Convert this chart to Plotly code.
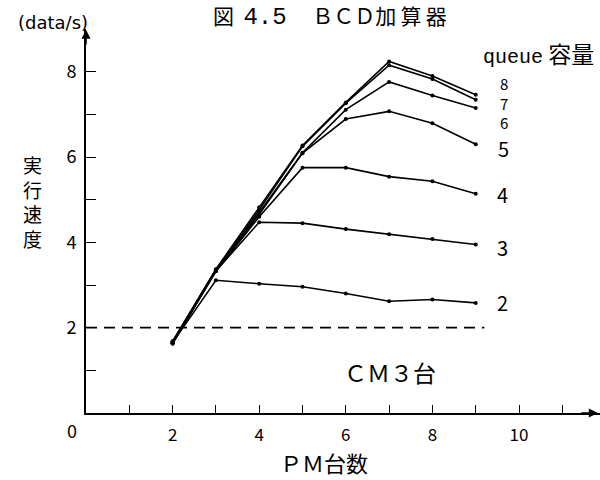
import plotly.graph_objects as go

# ---- data ----
pm_count = [2, 3, 4, 5, 6, 7, 8, 9]
queue_sizes = ["2", "3", "4", "5", "6", "7", "8"]
speed_q2 = [1.65, 3.11, 3.03, 2.96, 2.80, 2.62, 2.66, 2.58]
speed_q3 = [1.65, 3.33, 4.47, 4.45, 4.31, 4.19, 4.08, 3.95]
speed_q4 = [1.63, 3.32, 4.60, 5.75, 5.75, 5.54, 5.43, 5.14]
speed_q5 = [1.63, 3.33, 4.66, 6.09, 6.89, 7.07, 6.79, 6.30]
speed_q6 = [1.63, 3.34, 4.70, 6.10, 7.11, 7.76, 7.44, 7.15]
speed_q7 = [1.68, 3.36, 4.76, 6.25, 7.26, 8.15, 7.83, 7.34]
speed_q8 = [1.68, 3.37, 4.82, 6.27, 7.28, 8.24, 7.90, 7.46]
series = [speed_q2, speed_q3, speed_q4, speed_q5, speed_q6, speed_q7, speed_q8]
cm_limit = 2.0
x_tick_vals = [1, 2, 3, 4, 5, 6, 7, 8, 9, 10, 11]
x_tick_text = ["", "2", "", "4", "", "6", "", "8", "", "10", ""]
y_tick_vals = [1, 2, 3, 4, 5, 6, 7, 8]
y_tick_text = ["", "2", "", "4", "", "6", "", "8"]

FONT = "Noto Sans CJK JP"

fig = go.Figure()
for name, vals in zip(queue_sizes, series):
    fig.add_trace(go.Scatter(
        x=pm_count, y=vals, mode="lines+markers", name=name,
        line=dict(color="black", width=1.6),
        marker=dict(color="black", size=4),
        showlegend=False,
    ))

# dashed CM limit line
fig.add_shape(type="line", xref="x", yref="y", x0=0, x1=9.2, y0=cm_limit, y1=cm_limit,
              line=dict(color="black", width=1.6, dash="11px,7px"))

lab_font = lambda s: dict(size=s, family=FONT, color="black")
NB = "&nbsp;"
TH = "\u2009"

annotations = [
    # series labels (2..5 individually, 6/7/8 stacked tightly)
    dict(x=9.62, y=2.58, xref="x", yref="y", text=queue_sizes[0], showarrow=False, font=lab_font(20)),
    dict(x=9.62, y=3.89, xref="x", yref="y", text=queue_sizes[1], showarrow=False, font=lab_font(20)),
    dict(x=9.62, y=5.11, xref="x", yref="y", text=queue_sizes[2], showarrow=False, font=lab_font(20)),
    dict(x=9.65, y=6.19, xref="x", yref="y", text=queue_sizes[3], showarrow=False, font=lab_font(20)),
    dict(x=9.65, y=7.27, xref="x", yref="y",
         text="<br>".join([queue_sizes[6], queue_sizes[5], queue_sizes[4]]),
         showarrow=False, font=lab_font(15)),
    dict(x=9.12, y=8.44, xref="x", yref="y",
         text="<span style='font-family:Liberation Mono;font-size:20px'>queue</span> 容量", showarrow=False,
         xanchor="left", yanchor="middle", font=lab_font(23)),
    dict(x=7.02, y=0.95, xref="x", yref="y", text="ＣＭ３台", showarrow=False,
         xanchor="center", yanchor="middle", font=lab_font(23)),
    dict(x=0.2437, y=1.0346, xref="paper", yref="paper",
         text="図" + NB * 2 + "<span style='font-family:Liberation Mono;font-size:24px'>4.5</span>" + NB
              + "　ＢＣＤ加" + TH + "算" + TH + "器",
         showarrow=False, xanchor="left", yanchor="middle", font=lab_font(21)),
    dict(x=-0.064, y=1.018, xref="paper", yref="paper", text="(data/s)", showarrow=False,
         xanchor="center", yanchor="middle", font=dict(size=18, family="DejaVu Sans", color="black")),
    dict(x=-0.105, y=0.552, xref="paper", yref="paper", text="実<br>行<br>速<br>度", showarrow=False,
         xanchor="center", yanchor="middle", font=lab_font(19)),
    dict(x=-0.027, y=-0.045, xref="paper", yref="paper", text="0", showarrow=False,
         xanchor="center", yanchor="middle", font=lab_font(18)),
    dict(x=0.463, y=-0.128, xref="paper", yref="paper", text="ＰＭ台数", showarrow=False,
         xanchor="center", yanchor="middle", font=lab_font(22)),
    # y-axis arrow head
    dict(x=0, y=8.98, xref="x", yref="y", ax=0, ay=8.6, axref="x", ayref="y", text="",
         showarrow=True, arrowhead=2, arrowsize=1.2, arrowwidth=1.5, arrowcolor="black"),
    # x-axis arrow head
    dict(x=11.82, y=0, xref="x", yref="y", ax=11.4, ay=0, axref="x", ayref="y", text="",
         showarrow=True, arrowhead=2, arrowsize=1.2, arrowwidth=1.5, arrowcolor="black"),
]

fig.update_layout(
    width=600, height=480,
    margin=dict(l=86, r=0, t=29, b=67),
    paper_bgcolor="white", plot_bgcolor="white",
    font=dict(family=FONT, color="black"),
    annotations=annotations,
)
fig.update_xaxes(range=[0, 11.87], showgrid=False, zeroline=False, showline=True,
                 linecolor="black", linewidth=1.6, ticks="inside", ticklen=8, tickwidth=1.4,
                 tickcolor="black", tickvals=x_tick_vals, ticktext=x_tick_text,
                 tickfont=dict(size=17, family=FONT), ticklabelstandoff=6)
fig.update_yaxes(range=[0, 9], showgrid=False, zeroline=False, showline=True,
                 linecolor="black", linewidth=1.6, ticks="inside", ticklen=10, tickwidth=1.4,
                 tickcolor="black", tickvals=y_tick_vals, ticktext=y_tick_text,
                 tickfont=dict(size=18, family=FONT), ticklabelstandoff=4)

fig.write_html("out.html")
